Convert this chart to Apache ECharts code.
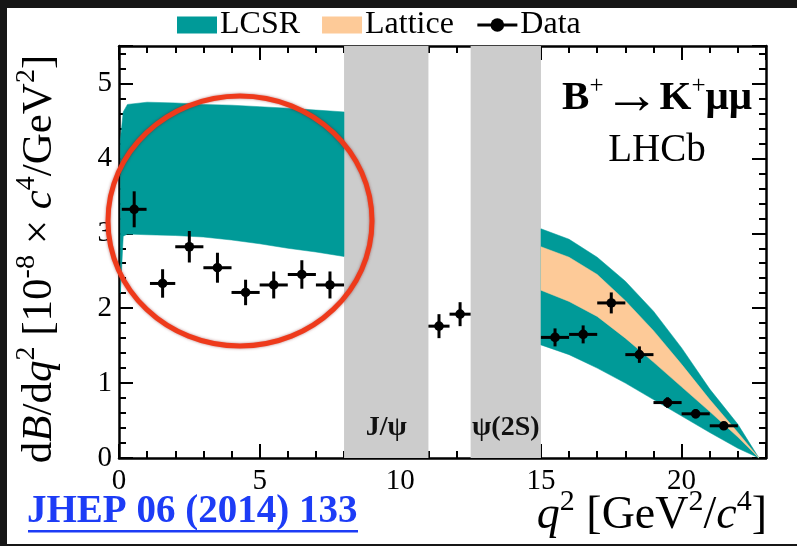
<!DOCTYPE html>
<html>
<head>
<meta charset="utf-8">
<script src="https://cdn.jsdelivr.net/npm/echarts@6/dist/echarts.min.js"></script>
<style>
html, body { margin: 0; padding: 0; background: #161616; }
#chart { width: 797px; height: 546px; }
</style>
</head>
<body>
<div id="chart"></div>
<script>
// measured dB/dq2 per q2 bin, units 1e-8 c^4/GeV^2
const binLo = [0.1, 1.1, 2, 3, 4, 5, 6, 7, 11, 11.75, 15, 16, 17, 18, 19, 20, 21];
const binHi = [0.98, 2, 3, 4, 5, 6, 7, 8, 11.75, 12.5, 16, 17, 18, 19, 20, 21, 22];
const dataVal = [3.32, 2.33, 2.82, 2.54, 2.21, 2.31, 2.45, 2.31, 1.76, 1.92, 1.61, 1.65, 2.07, 1.38, 0.74, 0.59, 0.43];
const dataErr = [0.24, 0.19, 0.21, 0.20, 0.17, 0.18, 0.19, 0.18, 0.16, 0.16, 0.12, 0.12, 0.14, 0.11, 0.07, 0.06, 0.05];

// LCSR prediction below the J/psi
const lowQ2 = [0.05, 0.15, 0.3, 1, 2, 3, 4, 5, 6, 7, 8];
const lowLcsrLo = [2.2, 2.96, 2.99, 2.98, 2.97, 2.95, 2.91, 2.86, 2.80, 2.75, 2.69];
const lowLcsrHi = [4.25, 4.62, 4.72, 4.75, 4.74, 4.72, 4.71, 4.69, 4.67, 4.645, 4.62];

// LCSR and lattice predictions above the psi(2S)
const highQ2 = [15, 16, 17, 18, 19, 20, 21, 22, 22.75];
const highLcsrHi = [3.06, 2.92, 2.68, 2.36, 1.96, 1.47, 0.92, 0.45, 0];
const highLcsrLo = [1.51, 1.38, 1.20, 1.00, 0.78, 0.56, 0.34, 0.13, 0];
const latticeHi = [2.82, 2.68, 2.45, 2.10, 1.70, 1.25, 0.78, 0.34, 0];
const latticeLo = [2.24, 2.09, 1.89, 1.60, 1.28, 0.95, 0.62, 0.28, 0];

// charmonium veto regions
const vetoLo = [8, 12.5];
const vetoHi = [11, 15];
const vetoNames = ['J/ψ', 'ψ(2S)'];

const TEAL = '#009a98';
const PEACH = '#fdca98';
const SERIF = 'Liberation Serif';

const chart = echarts.init(document.getElementById('chart'));

// band between two edges, drawn as one polygon from the first item
function band(name, xs, lo, hi, color) {
  return {
    type: 'custom', name: name, silent: true,
    itemStyle: { color: color },
    data: xs.map((x, i) => [x, lo[i], hi[i]]),
    renderItem: function (params, api) {
      if (params.dataIndex !== 0) return null;
      const n = xs.length;
      const pts = [];
      for (let i = 0; i < n; i++) pts.push(api.coord([api.value(0, i), api.value(2, i)]));
      for (let i = n - 1; i >= 0; i--) pts.push(api.coord([api.value(0, i), api.value(1, i)]));
      return {
        type: 'polygon',
        shape: { points: pts },
        style: { fill: color, stroke: color, lineWidth: 0.5 }
      };
    }
  };
}

const lowBand = band('LCSR', lowQ2, lowLcsrLo, lowLcsrHi, TEAL);
lowBand.markArea = {
  silent: true,
  itemStyle: { color: '#cccccc' },
  label: {
    show: true, position: 'insideBottom', distance: 16,
    fontFamily: SERIF, fontWeight: 'bold', fontSize: 28, color: '#111'
  },
  data: vetoLo.map((lo, i) => [{ xAxis: lo, name: vetoNames[i] }, { xAxis: vetoHi[i] }])
};

const axisCommon = {
  type: 'value',
  axisLine: { show: true, onZero: false, lineStyle: { color: '#000', width: 2.5 } },
  axisTick: { show: true, inside: true, length: 14, lineStyle: { color: '#000', width: 2 } },
  minorTick: { show: true, splitNumber: 5, length: 7, lineStyle: { color: '#000', width: 2 } },
  splitLine: { show: false },
  minorSplitLine: { show: false }
};
const tickLabel = { fontFamily: SERIF, fontSize: 29, color: '#000', showMaxLabel: false };

function titleRich(size, supSize) {
  return {
    n: { fontFamily: SERIF, fontSize: size, lineHeight: size + 11, fill: '#000' },
    i: { fontFamily: SERIF, fontSize: size, lineHeight: size + 11, fontStyle: 'italic', fill: '#000' },
    s: { fontFamily: SERIF, fontSize: supSize, lineHeight: supSize, verticalAlign: 'top', fill: '#000' }
  };
}

const option = {
  backgroundColor: '#161616',
  animation: false,
  grid: { left: 119, right: 31, top: 46, bottom: 88 },
  legend: {
    left: 172, top: 4,
    itemWidth: 40, itemHeight: 17, itemGap: 22,
    selectedMode: false,
    textStyle: { fontFamily: SERIF, fontSize: 32, color: '#000', padding: [0, 0, 0, -2] },
    lineStyle: { width: 3, color: '#000', opacity: 1 },
    data: [
      { name: 'LCSR', icon: 'rect' },
      { name: 'Lattice', icon: 'rect' },
      { name: 'Data' }
    ]
  },
  xAxis: [
    Object.assign({}, axisCommon, {
      min: 0, max: 23, interval: 5, position: 'bottom',
      axisLabel: Object.assign({ margin: 9 }, tickLabel)
    }),
    Object.assign({}, axisCommon, {
      min: 0, max: 23, interval: 5, position: 'top',
      axisLabel: { show: false }
    })
  ],
  yAxis: [
    Object.assign({}, axisCommon, {
      min: 0, max: 5.5, interval: 1, position: 'left',
      axisLabel: Object.assign({ margin: 7 }, tickLabel)
    }),
    Object.assign({}, axisCommon, {
      min: 0, max: 5.5, interval: 1, position: 'right',
      axisLabel: { show: false }
    })
  ],
  series: [
    lowBand,
    band('LCSR', highQ2, highLcsrLo, highLcsrHi, TEAL),
    band('Lattice', highQ2, latticeLo, latticeHi, PEACH),
    {
      // only here to give the legend a line-with-dot icon
      type: 'line', name: 'Data', data: [],
      symbol: 'circle', symbolSize: 11,
      itemStyle: { color: '#000' },
      lineStyle: { color: '#000', width: 3 }
    },
    {
      type: 'custom', name: 'Data', silent: true, z: 5,
      data: binLo.map((lo, i) => [lo, binHi[i], dataVal[i], dataErr[i]]),
      renderItem: function (params, api) {
        const lo = api.value(0), hi = api.value(1), v = api.value(2), e = api.value(3);
        const mid = (lo + hi) / 2;
        const c = api.coord([mid, v]);
        const l = api.coord([lo, v]);
        const r = api.coord([hi, v]);
        const t = api.coord([mid, v + e]);
        const b = api.coord([mid, v - e]);
        const st = { stroke: '#000', lineWidth: 3 };
        return {
          type: 'group',
          children: [
            { type: 'line', shape: { x1: l[0], y1: l[1], x2: r[0], y2: r[1] }, style: st },
            { type: 'line', shape: { x1: t[0], y1: t[1], x2: b[0], y2: b[1] }, style: st },
            { type: 'circle', shape: { cx: c[0], cy: c[1], r: 4.8 }, style: { fill: '#000' } }
          ]
        };
      }
    }
  ],
  graphic: [
    {
      type: 'rect', z: -100, silent: true,
      shape: { x: 7, y: 8, width: 790, height: 536 },
      style: { fill: '#ffffff' }
    },
    {
      // y axis title
      type: 'text', x: 40, y: 259, rotation: Math.PI / 2, silent: true,
      style: {
        text: '{n|d}{i|B}{n|/d}{i|q}{s|2}{n| [10}{s|-8}{n| × }{i|c}{s|4}{n|/GeV}{s|2}{n|]}',
        align: 'center', verticalAlign: 'middle',
        rich: titleRich(43, 28)
      }
    },
    {
      // x axis title
      type: 'text', x: 767, y: 516, silent: true,
      style: {
        text: '{i|q}{s|2}{n| [GeV}{s|2}{n|/}{i|c}{s|4}{n|]}',
        align: 'right', verticalAlign: 'middle',
        rich: titleRich(46, 30)
      }
    },
    {
      type: 'text', x: 752, y: 98, silent: true,
      style: {
        text: '{b|B}{s|+}{a|→}{b|K}{s|+}{b|μμ}',
        align: 'right', verticalAlign: 'middle',
        rich: {
          b: { fontFamily: SERIF, fontSize: 41, fontWeight: 'bold', lineHeight: 48, fill: '#000' },
          a: { fontFamily: SERIF, fontSize: 56, lineHeight: 48, fill: '#000' },
          s: { fontFamily: SERIF, fontSize: 25, lineHeight: 25, verticalAlign: 'top', fill: '#000' }
        }
      }
    },
    {
      type: 'text', x: 657, y: 151, silent: true,
      style: {
        text: 'LHCb', align: 'center', verticalAlign: 'middle',
        fontFamily: SERIF, fontSize: 39, fill: '#000'
      }
    },
    {
      type: 'text', x: 27, y: 512, silent: true,
      style: {
        text: 'JHEP 06 (2014) 133', align: 'left', verticalAlign: 'middle',
        fontFamily: SERIF, fontSize: 39, fontWeight: 'bold', fill: '#1d3cf6'
      }
    },
    {
      type: 'rect', silent: true,
      shape: { x: 28, y: 530, width: 330, height: 2.5 },
      style: { fill: '#1d3cf6' }
    },
    {
      // red hand-drawn ring around the low-q2 region
      type: 'ellipse', silent: true, z: 50,
      shape: { cx: 240, cy: 221, rx: 132, ry: 125 },
      style: {
        fill: null, stroke: '#ee3a1b', lineWidth: 5,
        shadowBlur: 3, shadowColor: 'rgba(120,0,0,0.5)'
      }
    }
  ]
};

chart.setOption(option);
</script>
</body>
</html>
